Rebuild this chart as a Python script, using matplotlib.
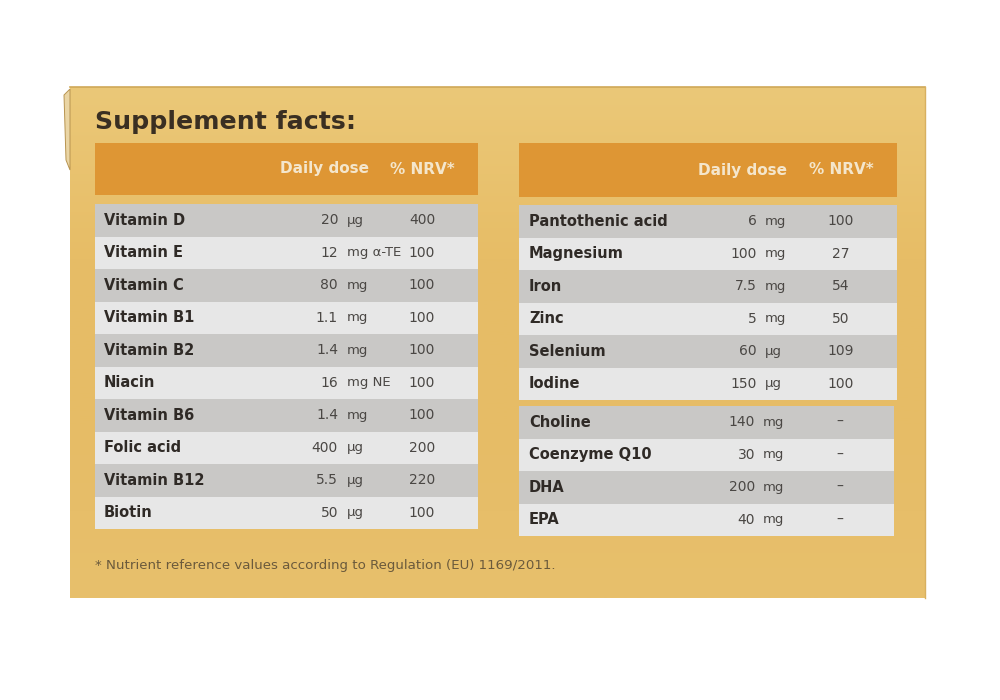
import matplotlib.pyplot as plt
import numpy as np
from matplotlib.patches import Rectangle, Polygon
from matplotlib.colors import LinearSegmentedColormap

# --- data ---
left_names = ["Vitamin D", "Vitamin E", "Vitamin C", "Vitamin B1", "Vitamin B2",
              "Niacin", "Vitamin B6", "Folic acid", "Vitamin B12", "Biotin"]
left_amounts = ["20", "12", "80", "1.1", "1.4", "16", "1.4", "400", "5.5", "50"]
left_units = ["µg", "mg α-TE", "mg", "mg", "mg", "mg NE", "mg", "µg", "µg", "µg"]
left_nrv = ["400", "100", "100", "100", "100", "100", "100", "200", "220", "100"]

right_names = ["Pantothenic acid", "Magnesium", "Iron", "Zinc", "Selenium", "Iodine"]
right_amounts = ["6", "100", "7.5", "5", "60", "150"]
right_units = ["mg", "mg", "mg", "mg", "µg", "µg"]
right_nrv = ["100", "27", "54", "50", "109", "100"]

extra_names = ["Choline", "Coenzyme Q10", "DHA", "EPA"]
extra_amounts = ["140", "30", "200", "40"]
extra_units = ["mg", "mg", "mg", "mg"]
extra_nrv = ["–", "–", "–", "–"]

header_cols = ["Daily dose", "% NRV*"]
title = "Supplement facts:"
footnote = "* Nutrient reference values according to Regulation (EU) 1169/2011."

HEAD = "#DE9634"
DARK_ROW = "#C9C8C6"
LIGHT_ROW = "#E7E7E7"
NAME_C = "#2f2a26"
VAL_C = "#4a4744"

fig = plt.figure(figsize=(10, 7), dpi=100)
ax = fig.add_axes([0, 0, 1, 1])
ax.set_xlim(0, 1000)
ax.set_ylim(700, 0)
ax.axis("off")

# box with soft vertical gradient
box_cmap = LinearSegmentedColormap.from_list("box", ["#EBC878", "#E7BD66", "#E6BC66", "#E8C06C"])
grad = np.linspace(0, 1, 200).reshape(-1, 1)
ax.imshow(grad, cmap=box_cmap, extent=(70, 925, 598, 87), aspect="auto", zorder=0)
ax.set_xlim(0, 1000)
ax.set_ylim(700, 0)
ax.plot([70, 925], [87, 87], color="#cfa858", lw=1.2)
ax.plot([925, 925], [87, 598], color="#d8b060", lw=1.0)
ax.add_patch(Polygon([[64, 95], [70, 89], [70, 170], [66, 160]],
                     facecolor="#ead5a4", edgecolor="#b89450", lw=0.7))

ax.text(95, 122, title, fontsize=18.2, fontweight="heavy", color="#3a2f22",
        va="center", ha="left")

ROW_H = 32.5


def draw_table(x0, x1, y0, names, amounts, units, nrv, name_x, amt_x, unit_x, nrv_x):
    for i, (n, a, u, p) in enumerate(zip(names, amounts, units, nrv)):
        top = y0 + i * ROW_H
        ax.add_patch(Rectangle((x0, top), x1 - x0, ROW_H,
                               facecolor=DARK_ROW if i % 2 == 0 else LIGHT_ROW,
                               edgecolor="none"))
        cy = top + ROW_H / 2
        ax.text(name_x, cy, n, fontsize=10.5, fontweight="bold", color=NAME_C,
                va="center", ha="left")
        ax.text(amt_x, cy, a, fontsize=10, color=VAL_C, va="center", ha="right")
        ax.text(unit_x, cy, u, fontsize=9.5, color=VAL_C, va="center", ha="left")
        ax.text(nrv_x, cy, p, fontsize=10, color=VAL_C, va="center", ha="center")
    return y0 + len(names) * ROW_H


def draw_header(x0, x1, y0, y1, dose_x, nrv_x):
    ax.add_patch(Rectangle((x0, y0), x1 - x0, y1 - y0, facecolor=HEAD, edgecolor="none"))
    cy = (y0 + y1) / 2
    ax.text(dose_x, cy, header_cols[0], fontsize=11, fontweight="bold",
            color="#f4e6cc", va="center", ha="center")
    ax.text(nrv_x, cy, header_cols[1], fontsize=11, fontweight="bold",
            color="#f4e6cc", va="center", ha="center")


# left table
draw_header(95, 478, 143, 195, 324, 422)
draw_table(95, 478, 204, left_names, left_amounts, left_units, left_nrv,
           104, 338, 347, 422)

# right table
draw_header(519, 897, 143, 197, 743, 841)
end = draw_table(519, 897, 205, right_names, right_amounts, right_units, right_nrv,
                 529, 757, 765, 841)
draw_table(519, 894, end + 6, extra_names, extra_amounts, extra_units, extra_nrv,
           529, 755, 763, 840)

ax.text(95, 566, footnote, fontsize=9.6, color="#6b5a3c", va="center", ha="left")

fig.savefig("out.png", dpi=100, facecolor="white")
